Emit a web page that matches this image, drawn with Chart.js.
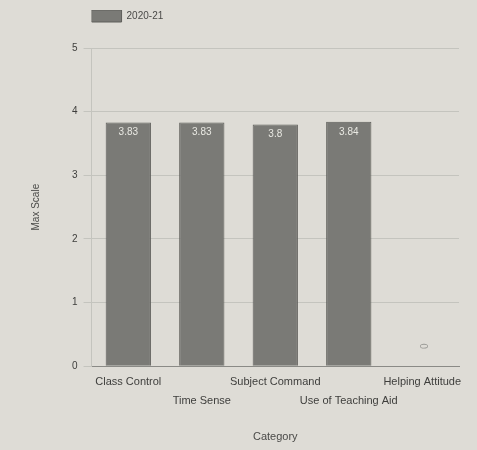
<!DOCTYPE html>
<html>
<head>
<meta charset="utf-8">
<script src="https://cdn.jsdelivr.net/npm/chart.js@4"></script>
<style>
html,body{margin:0;padding:0;background:#dedcd6;}
#wrap{width:477px;height:450px;}
</style>
</head>
<body>
<div id="wrap"><canvas id="c" width="477" height="450"></canvas></div>
<script>
const categories = ['Class Control', 'Time Sense', 'Subject Command', 'Use of Teaching Aid', 'Helping Attitude'];
const values2020 = [3.83, 3.83, 3.8, 3.84, 0];
const valueLabels = ['3.83', '3.83', '3.8', '3.84', '0'];
const yTicks = [0, 1, 2, 3, 4, 5];

const labelPlugin = {
  id: 'barLabels',
  beforeInit(chart) {
    const lg = chart.legend;
    if (lg) {
      const orig = lg.fit;
      lg.fit = function () { orig.call(this); this.height += 16; };
    }
  },
  afterDatasetsDraw(chart) {
    const ctx = chart.ctx;
    const meta = chart.getDatasetMeta(0);
    ctx.save();
    ctx.font = '10px "Liberation Sans", Arial, sans-serif';
    ctx.textAlign = 'center';
    meta.data.forEach((bar, i) => {
      const v = values2020[i];
      if (v > 0) {
        ctx.fillStyle = '#e8e8e2';
        ctx.textBaseline = 'top';
        ctx.fillText(valueLabels[i], bar.x, bar.y + 5);
      } else {
        ctx.fillStyle = '#9a9a96';
        ctx.translate(bar.x + 3, bar.y - 20);
        ctx.rotate(-Math.PI / 2);
        ctx.textBaseline = 'middle';
        ctx.fillText(valueLabels[i], 0, 0);
        ctx.setTransform(1,0,0,1,0,0);
      }
    });
    ctx.restore();
  }
};

new Chart(document.getElementById('c'), {
  type: 'bar',
  data: {
    labels: categories.map((c, i) => i % 2 === 1 ? ['', c] : c),
    datasets: [{
      label: '2020-21',
      data: values2020,
      backgroundColor: '#7a7a76',
      borderColor: '#5e5e5a',
      borderWidth: 1,
      categoryPercentage: 0.8,
      barPercentage: 0.77
    }]
  },
  options: {
    responsive: false,
    animation: false,
    layout: { padding: { left: 26, right: 18, top: 10, bottom: 2 } },
    plugins: {
      legend: {
        position: 'top',
        align: 'start',
        fullSize: false,
        labels: {
          boxWidth: 30,
          boxHeight: 12,
          color: '#4a4a48',
          font: { size: 10, family: '"Liberation Sans", Arial, sans-serif' },
          padding: 0
        }
      },
      tooltip: { enabled: false }
    },
    scales: {
      x: {
        grid: { display: false, drawTicks: false },
        border: { color: '#8a8a86' },
        ticks: {
          autoSkip: false,
          maxRotation: 0,
          minRotation: 0,
          padding: 6,
          color: '#3e3e3c',
          font: { size: 11, lineHeight: 1.75, family: '"Liberation Sans", Arial, sans-serif' }
        },
        title: {
          display: true,
          text: 'Category',
          color: '#4a4a48',
          font: { size: 11, family: '"Liberation Sans", Arial, sans-serif' },
          padding: { top: 14 }
        }
      },
      y: {
        min: 0,
        max: 5,
        afterBuildTicks(axis) { axis.ticks = yTicks.map(v => ({ value: v })); },
        grid: { color: '#c4c4be', tickLength: 8, tickColor: '#c4c4be' },
        border: { color: '#c4c4be' },
        ticks: {
          color: '#3e3e3c',
          padding: 6,
          font: { size: 10, family: '"Liberation Sans", Arial, sans-serif' }
        },
        title: {
          display: true,
          text: 'Max Scale',
          color: '#4a4a48',
          font: { size: 10, family: '"Liberation Sans", Arial, sans-serif' },
          padding: { bottom: 24 }
        }
      }
    }
  },
  plugins: [labelPlugin]
});
</script>
</body>
</html>
